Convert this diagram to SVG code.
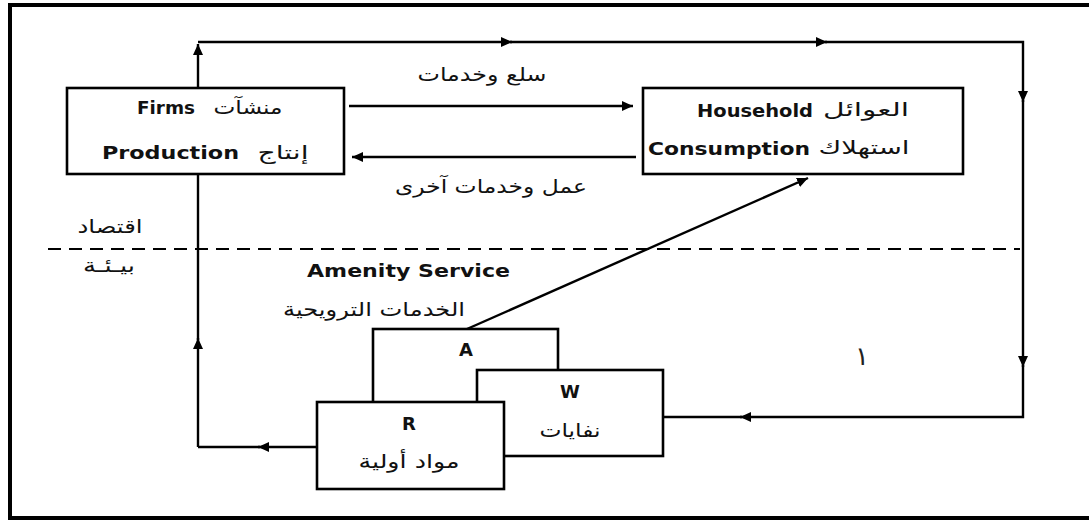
<svg xmlns="http://www.w3.org/2000/svg" width="1089" height="523" viewBox="0 0 1089 523">
<style>
.box{fill:#fff;stroke:#000;stroke-width:2.6}
.ln{fill:none;stroke:#000;stroke-width:2.4}
.en{font-family:"DejaVu Sans","Liberation Sans",sans-serif;font-weight:bold;font-size:18px;fill:#111}
.ar{font-family:"DejaVu Sans","Noto Sans",sans-serif;font-size:19px;fill:#111;text-anchor:middle}
</style>
<defs>
<marker id="ah" markerUnits="userSpaceOnUse" markerWidth="12" markerHeight="10" refX="11" refY="5" orient="auto">
<path d="M0,0 L11,5 L0,10 z" fill="#000"/>
</marker>
</defs>
<rect x="0" y="0" width="1089" height="523" fill="#fff"/>
<rect x="10" y="5" width="1100" height="513" fill="none" stroke="#000" stroke-width="4"/>

<g id="divider">
<line x1="48" y1="249" x2="1020" y2="249" stroke="#000" stroke-width="2" stroke-dasharray="13 8"/>
<text class="ar" x="110" y="233" textLength="65" lengthAdjust="spacingAndGlyphs">اقتصاد</text>
<text class="ar" x="109" y="272" textLength="52" lengthAdjust="spacingAndGlyphs">بيـئـة</text>
</g>

<g id="connectors">
<path class="ln" d="M198,447 L198,338" marker-end="url(#ah)"/>
<path class="ln" d="M198,340 L198,174"/>
<path class="ln" d="M198,88 L198,44" marker-end="url(#ah)"/>
<path class="ln" d="M198,42 L512,42" marker-end="url(#ah)"/>
<path class="ln" d="M510,42 L827,42" marker-end="url(#ah)"/>
<path class="ln" d="M825,42 L1023,42 L1023,102" marker-end="url(#ah)"/>
<path class="ln" d="M1023,100 L1023,367" marker-end="url(#ah)"/>
<path class="ln" d="M1023,365 L1023,417 L740,417" marker-end="url(#ah)"/>
<path class="ln" d="M742,417 L663,417"/>
<path class="ln" d="M317,447 L258,447" marker-end="url(#ah)"/>
<path class="ln" d="M260,447 L198,447"/>
<path class="ln" d="M349,106 L633,106" marker-end="url(#ah)"/>
<path class="ln" d="M636,157 L352,157" marker-end="url(#ah)"/>
<path class="ln" d="M467,329 L808,178" marker-end="url(#ah)"/>
<text class="ar" x="482" y="81" textLength="129" lengthAdjust="spacingAndGlyphs">سلع وخدمات</text>
<text class="ar" x="491" y="193" textLength="192" lengthAdjust="spacingAndGlyphs">عمل وخدمات آخرى</text>
</g>

<g id="firms">
<rect class="box" x="67" y="88" width="277" height="86"/>
<text class="en" x="137" y="114" textLength="58" lengthAdjust="spacingAndGlyphs">Firms</text>
<text class="ar" x="248" y="114" textLength="69" lengthAdjust="spacingAndGlyphs">منشآت</text>
<text class="en" x="102" y="159" textLength="137" lengthAdjust="spacingAndGlyphs">Production</text>
<text class="ar" x="283" y="159" textLength="51" lengthAdjust="spacingAndGlyphs">إنتاج</text>
</g>

<g id="household">
<rect class="box" x="643" y="88" width="320" height="86"/>
<text class="en" x="697" y="117" textLength="116" lengthAdjust="spacingAndGlyphs">Household</text>
<text class="ar" x="866" y="116" textLength="86" lengthAdjust="spacingAndGlyphs">العوائل</text>
<text class="en" x="648" y="155" textLength="162" lengthAdjust="spacingAndGlyphs">Consumption</text>
<text class="ar" x="864" y="154" textLength="91" lengthAdjust="spacingAndGlyphs">استهلاك</text>
</g>

<g id="amenity-label">
<text class="en" x="307" y="277" textLength="203" lengthAdjust="spacingAndGlyphs">Amenity Service</text>
<text class="ar" x="374" y="316" textLength="182" lengthAdjust="spacingAndGlyphs">الخدمات الترويحية</text>
</g>

<g id="A">
<rect class="box" x="373" y="329" width="185" height="90"/>
<text class="en" x="466" y="356" text-anchor="middle">A</text>
</g>

<g id="W">
<rect class="box" x="477" y="370" width="186" height="86"/>
<text class="en" x="570" y="398" text-anchor="middle">W</text>
<text class="ar" x="570" y="437" textLength="61" lengthAdjust="spacingAndGlyphs">نفايات</text>
</g>

<g id="R">
<rect class="box" x="317" y="402" width="187" height="87"/>
<text class="en" x="409" y="430" text-anchor="middle">R</text>
<text class="ar" x="409" y="468" textLength="101" lengthAdjust="spacingAndGlyphs">مواد أولية</text>
</g>

<g id="figure-number">
<text x="862" y="365" text-anchor="middle" style="font-family:'DejaVu Sans',sans-serif;font-size:26px;fill:#222">١</text>
</g>
</svg>
